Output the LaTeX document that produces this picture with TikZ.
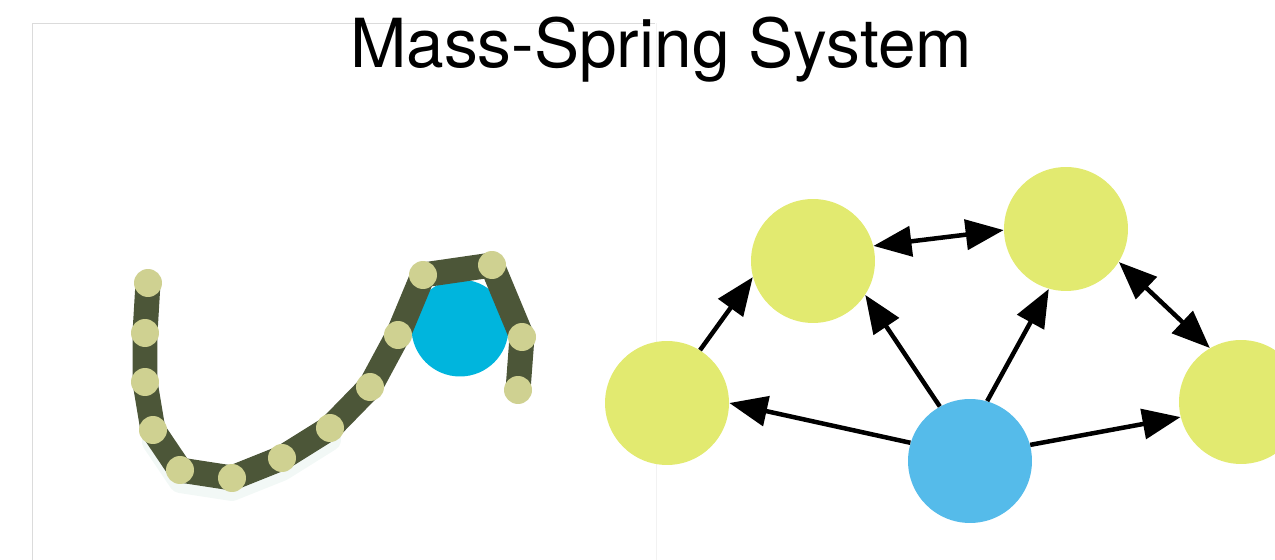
\documentclass[tikz,border=0pt]{standalone}
\usepackage{fontspec}
\setmainfont{TeX Gyre Heros}
\usetikzlibrary{arrows.meta}

\definecolor{ball}{RGB}{85,187,234}
\definecolor{leaf}{RGB}{226,234,112}
\definecolor{cord}{RGB}{76,86,56}
\definecolor{bead}{RGB}{207,209,145}
\definecolor{puck}{RGB}{0,181,221}
\definecolor{haze}{RGB}{242,248,246}

\begin{document}
\begin{tikzpicture}[x=0.02cm, y=-0.02cm,
       tip/.style = {line width=0.09cm},
       arr/.style = {tip, -{Triangle[length=0.76cm, width=0.6cm]}},
      darr/.style = {tip, {Triangle[length=0.76cm, width=0.6cm]}-{Triangle[length=0.76cm, width=0.6cm]}},
         M/.style = {circle, fill=#1, inner sep=0pt, minimum size=2.48cm},
      rope/.style = {line width=0.5cm, line join=round, line cap=round, draw=#1},
        bd/.style = {circle, fill=bead, inner sep=0pt, minimum size=0.56cm},
                    ]
\clip (0,0) rectangle (1275,560);
% frame of the left panel
\draw[black!14, line width=0.5pt] (32,560) -- (32,23) -- (655,23);
\draw[black!5, line width=0.5pt] (656,23) -- (656,560);
\node[anchor=base, font=\fontsize{38.5}{42}\selectfont] (title) at (661,68)
    {Mass-Spring System};
%% left: rope of beads hanging over a ball
\foreach \x/\y [count=\i] in {148/283, 145/333, 145/382, 153/430, 180/470,
                              232/478, 282/458, 330/428, 370/387, 398/335,
                              423/275, 492/265, 522/337, 518/390}
    \coordinate (b\i) at (\x,\y);
\draw[rope=haze, line width=0.44cm, transform canvas={yshift=-0.24cm}]
    (b4) foreach \i in {5,...,8} {-- (b\i)};
\node[M=puck, minimum size=1.94cm] (P) at (460,328) {};
\draw[rope=cord] (b1) foreach \i in {2,...,14} {-- (b\i)};
\foreach \i in {1,...,14}
    \node[bd] (k\i) at (b\i) {};
%% right: springs between masses
\node[M=leaf] (L)  at (667,403)  {};
\node[M=leaf] (UL) at (813,261)  {};
\node[M=leaf] (UR) at (1066,229) {};
\node[M=leaf] (R)  at (1241,402) {};
\node[M=ball] (C)  at (970,461)  {};
%
\draw[arr]  (L.58)   -- (UL.195);
\draw[arr]  (C.163)  -- (L.0);
\draw[arr]  (C.119)  -- (UL.327);
\draw[arr]  (C.74)   -- (UR.254);
\draw[arr]  (C.15)   -- (R.194);
\draw[darr] (UL.14)  -- (UR.181);
\draw[darr] (UR.328) -- (R.120);
\end{tikzpicture}
\end{document}
